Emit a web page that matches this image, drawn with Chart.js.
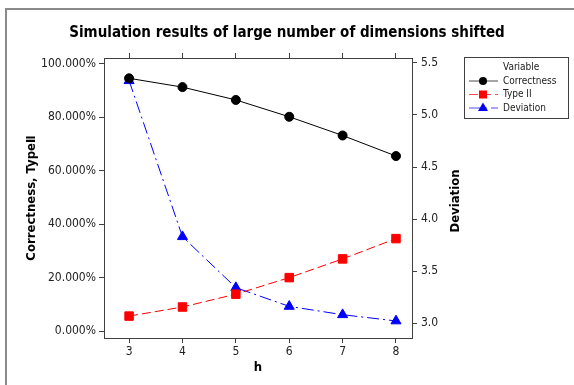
<!DOCTYPE html>
<html>
<head>
<meta charset="utf-8">
<script src="https://cdn.jsdelivr.net/npm/chart.js@4"></script>
<style>
  html, body { margin: 0; padding: 0; background: #fff; }
</style>
</head>
<body>
<canvas id="chart" width="574" height="385"></canvas>
<script>
const hValues = [3, 4, 5, 6, 7, 8];
const correctness = [94.6, 91.3, 86.5, 80.2, 73.2, 65.5];
const typeII = [5.6, 9.0, 13.8, 20.0, 27.0, 34.6];
const deviation = [5.33, 3.83, 3.34, 3.16, 3.08, 3.02];
const pctTicks = [0, 20, 40, 60, 80, 100];
const devTicks = [3.0, 3.5, 4.0, 4.5, 5.0, 5.5];
const seriesNames = ["Correctness", "Type II", "Deviation"];

const FONT = "Tahoma, 'DejaVu Sans Condensed', 'DejaVu Sans', sans-serif";
const AXIS = "#404040";

const toPoints = (values) => hValues.map((h, i) => ({ x: h, y: values[i] }));
const setTicks = (list) => (scale) => {
  scale.ticks = list.map((v) => ({ value: v }));
};

const frameAxis = {
  grid: { drawOnChartArea: false, drawTicks: true, tickLength: 5, color: AXIS },
  border: { display: true, color: AXIS, width: 1 },
};

// legend marker, same shapes as the chart points
const drawMarker = (ctx, style, x, y, color) => {
  ctx.fillStyle = color;
  ctx.beginPath();
  if (style === "circle") ctx.arc(x, y, 4, 0, Math.PI * 2);
  else if (style === "rect") ctx.rect(x - 4, y - 4, 8, 8);
  else {
    ctx.moveTo(x, y - 5.5);
    ctx.lineTo(x + 5, y + 3);
    ctx.lineTo(x - 5, y + 3);
    ctx.closePath();
  }
  ctx.fill();
};

const decor = {
  id: "decor",
  beforeDraw(chart) {
    const ctx = chart.ctx;
    ctx.save();
    ctx.fillStyle = "#fff";
    ctx.fillRect(0, 0, chart.width, chart.height);
    ctx.strokeStyle = "#8a8a8a";
    ctx.lineWidth = 2;
    ctx.beginPath();
    ctx.moveTo(6, chart.height);
    ctx.lineTo(6, 9);
    ctx.lineTo(chart.width, 9);
    ctx.stroke();
    ctx.restore();
  },
  afterDraw(chart) {
    const ctx = chart.ctx;
    const area = chart.chartArea;
    ctx.save();

    // right axis title, reads bottom to top like the left one
    ctx.translate(456, (area.top + area.bottom) / 2 + 3);
    ctx.rotate(-Math.PI / 2);
    ctx.font = "bold 13px " + FONT;
    ctx.fillStyle = "#000";
    ctx.textAlign = "center";
    ctx.textBaseline = "middle";
    ctx.fillText("Deviation", 0, 0);
    ctx.setTransform(1, 0, 0, 1, 0, 0);

    // legend box
    ctx.strokeStyle = AXIS;
    ctx.lineWidth = 1;
    ctx.strokeRect(464.5, 57.5, 104, 61);
    ctx.font = "10px " + FONT;
    ctx.fillStyle = "#222";
    ctx.textAlign = "left";
    ctx.fillText("Variable", 503, 67);
    chart.data.datasets.forEach((ds, i) => {
      const y = 81 + i * 13.5;
      ctx.strokeStyle = ds.borderColor;
      ctx.globalAlpha = 0.7;
      ctx.setLineDash(ds.borderDash || []);
      ctx.beginPath();
      ctx.moveTo(469, y);
      ctx.lineTo(498, y);
      ctx.stroke();
      ctx.setLineDash([]);
      ctx.globalAlpha = 1;
      drawMarker(ctx, ds.pointStyle, 483, y, ds.pointBackgroundColor);
      ctx.fillStyle = "#222";
      ctx.fillText(ds.label, 503, y);
    });
    ctx.restore();
  },
};

new Chart(document.getElementById("chart"), {
  type: "line",
  data: {
    datasets: [
      {
        label: seriesNames[0],
        data: toPoints(correctness),
        borderColor: "#000",
        borderWidth: 1,
        pointStyle: "circle",
        pointRadius: 4.5,
        pointBackgroundColor: "#000",
        pointBorderColor: "#000",
        yAxisID: "y",
      },
      {
        label: seriesNames[1],
        data: toPoints(typeII),
        borderColor: "#ff0000",
        borderWidth: 1,
        borderDash: [9, 4],
        pointStyle: "rect",
        pointRadius: 6,
        pointBackgroundColor: "#ff0000",
        pointBorderColor: "#ff0000",
        yAxisID: "y",
      },
      {
        label: seriesNames[2],
        data: toPoints(deviation),
        borderColor: "#0000ff",
        borderWidth: 1,
        borderDash: [12, 4, 2, 4],
        pointStyle: "triangle",
        pointRadius: 5.8,
        pointBackgroundColor: "#0000ff",
        pointBorderColor: "#0000ff",
        yAxisID: "y2",
      },
    ],
  },
  options: {
    responsive: false,
    animation: false,
    layout: { padding: 0 },
    plugins: {
      legend: { display: false },
      tooltip: { enabled: false },
      title: {
        display: true,
        text: "Simulation results of large number of dimensions shifted",
        color: "#000",
        font: { family: FONT, size: 15, weight: "bold" },
        padding: { top: 24, bottom: 10 },
      },
    },
    scales: {
      x: {
        type: "linear",
        position: "bottom",
        min: 2.53,
        max: 8.3,
        afterBuildTicks: setTicks(hValues),
        afterFit: (s) => { s.height = 47; },
        ticks: { color: "#222", font: { family: FONT, size: 12 }, padding: 2, callback: (v) => v },
        title: {
          display: true,
          text: "h",
          color: "#000",
          font: { family: FONT, size: 13, weight: "bold" },
          padding: { top: 0, bottom: 10 },
        },
        ...frameAxis,
      },
      x2: {
        type: "linear",
        position: "top",
        min: 2.53,
        max: 8.3,
        afterBuildTicks: setTicks(hValues),
        afterFit: (s) => { s.height = 6; },
        ticks: { display: false },
        ...frameAxis,
      },
      y: {
        type: "linear",
        position: "left",
        min: -2.6,
        max: 102.2,
        afterBuildTicks: setTicks(pctTicks),
        afterFit: (s) => { s.width = 104; },
        ticks: {
          color: "#222",
          font: { family: FONT, size: 12 },
          padding: 3,
          callback: (v) => v.toFixed(3) + "%",
        },
        title: {
          display: true,
          text: "Correctness, TypeⅡ",
          color: "#000",
          font: { family: FONT, size: 13, weight: "bold" },
          padding: { top: 24, bottom: 0 },
        },
        ...frameAxis,
      },
      y2: {
        type: "linear",
        position: "right",
        min: 2.856,
        max: 5.548,
        afterBuildTicks: setTicks(devTicks),
        afterFit: (s) => { s.width = 162; },
        ticks: {
          color: "#222",
          font: { family: FONT, size: 12 },
          padding: 4,
          callback: (v) => v.toFixed(1),
        },
        ...frameAxis,
      },
    },
  },
  plugins: [decor],
});
</script>
</body>
</html>
